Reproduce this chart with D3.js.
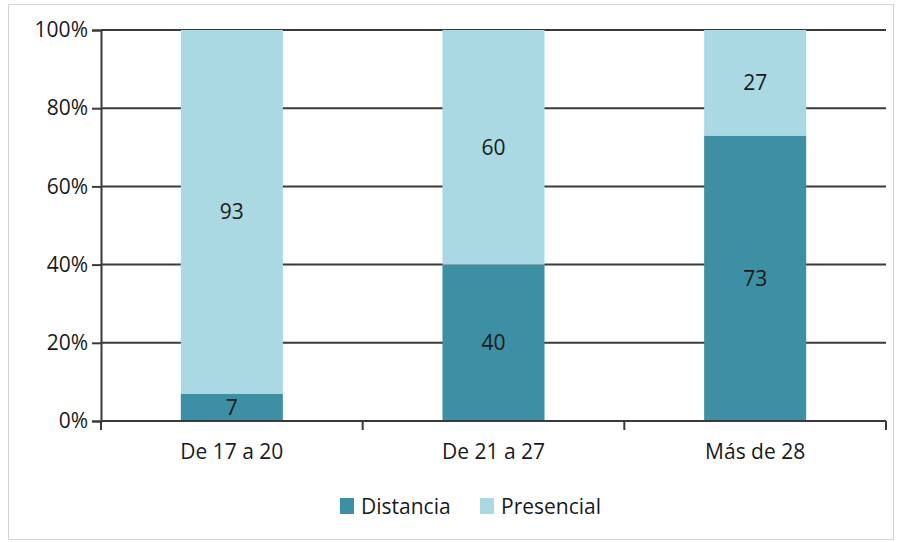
<!DOCTYPE html>
<html>
<head>
<meta charset="utf-8">
<script src="https://cdn.jsdelivr.net/npm/d3@7"></script>
<style>
  html, body { margin: 0; padding: 0; background: #fff; }
  svg { display: block; }
  text { font-family: "Open Sans", Lato, sans-serif; fill: #1a1a1a; }
</style>
</head>
<body>
<svg id="chart" width="899" height="542"></svg>
<script>
// Age groups and share of students by modality (%)
const categories = ["De 17 a 20", "De 21 a 27", "Más de 28"];
const distancia = [7, 40, 73];
const presencial = [93, 60, 27];
const seriesNames = ["Distancia", "Presencial"];
const seriesColors = ["#3d8fa3", "#aad9e3"];
const yTicks = [0, 20, 40, 60, 80, 100];

const svg = d3.select("#chart");
const W = 899, H = 542;
const FS = 21;

// outer frame
svg.append("rect")
  .attr("x", 8.5).attr("y", 4.5)
  .attr("width", W - 14).attr("height", H - 7)
  .attr("fill", "#fff").attr("stroke", "#d4d4d4").attr("stroke-width", 1);

const margin = { left: 101, right: 13, top: 30, bottom: 121 };
const plotW = W - margin.left - margin.right;
const plotH = H - margin.top - margin.bottom;

const g = svg.append("g").attr("transform", `translate(${margin.left},${margin.top})`);

const x = d3.scaleBand().domain(categories).range([0, plotW]).paddingInner(0.61).paddingOuter(0.305);
const y = d3.scaleLinear().domain([0, 100]).range([plotH, 0]);

const rows = categories.map((c, i) => ({ cat: c, Distancia: distancia[i], Presencial: presencial[i] }));
const stacked = d3.stack().keys(seriesNames)(rows);

// horizontal gridlines
g.append("g").selectAll("line").data(yTicks.filter(t => t > 0)).join("line")
  .attr("x1", 0).attr("x2", plotW)
  .attr("y1", d => y(d)).attr("y2", d => y(d))
  .attr("stroke", "#3a3a3a").attr("stroke-width", 2);

// stacked bars
const layers = g.append("g").selectAll("g").data(stacked).join("g")
  .attr("fill", (d, i) => seriesColors[i]);
layers.selectAll("rect").data(d => d).join("rect")
  .attr("x", d => x(d.data.cat))
  .attr("width", x.bandwidth())
  .attr("y", d => y(d[1]))
  .attr("height", d => y(d[0]) - y(d[1]));

// value labels
layers.selectAll("text").data(d => d.map(v => ({ v, key: d.key }))).join("text")
  .attr("x", d => x(d.v.data.cat) + x.bandwidth() / 2)
  .attr("y", d => (y(d.v[0]) + y(d.v[1])) / 2)
  .attr("dy", "0.36em")
  .attr("text-anchor", "middle")
  .attr("font-size", FS)
  .text(d => d.v.data[d.key]);

// y axis
const yAxis = g.append("g")
  .call(d3.axisLeft(y).tickValues(yTicks).tickFormat(d => d + "%").tickSize(9).tickPadding(4));
yAxis.select(".domain").attr("stroke", "#3a3a3a").attr("stroke-width", 2);
yAxis.selectAll(".tick line").attr("stroke", "#3a3a3a").attr("stroke-width", 2);
yAxis.selectAll(".tick text").attr("font-size", FS).attr("fill", "#1a1a1a");

// x axis with ticks between categories
const xAxisG = g.append("g").attr("transform", `translate(0,${plotH})`);
xAxisG.append("line").attr("x1", 0).attr("x2", plotW).attr("y1", 0).attr("y2", 0)
  .attr("stroke", "#3a3a3a").attr("stroke-width", 2);
const step = x.step();
const edges = d3.range(categories.length + 1).map(i => x(categories[0]) - x.paddingInner() * step / 2 + i * step);
xAxisG.selectAll("line.tk").data(edges).join("line").attr("class", "tk")
  .attr("x1", d => d).attr("x2", d => d).attr("y1", 0).attr("y2", 9)
  .attr("stroke", "#3a3a3a").attr("stroke-width", 2);
xAxisG.selectAll("text").data(categories).join("text")
  .attr("x", d => x(d) + x.bandwidth() / 2)
  .attr("y", 30)
  .attr("dy", "0.36em")
  .attr("text-anchor", "middle")
  .attr("font-size", FS)
  .text(d => d);

// legend
const legend = svg.append("g").attr("transform", "translate(340,506)");
const legendX = [0, 140];
seriesNames.forEach((name, i) => {
  const item = legend.append("g").attr("transform", `translate(${legendX[i]},0)`);
  item.append("rect").attr("x", 0).attr("y", -8).attr("width", 14).attr("height", 16).attr("fill", seriesColors[i]);
  item.append("text").attr("x", 21).attr("y", 0).attr("dy", "0.36em").attr("font-size", FS).text(name);
});
</script>
</body>
</html>
